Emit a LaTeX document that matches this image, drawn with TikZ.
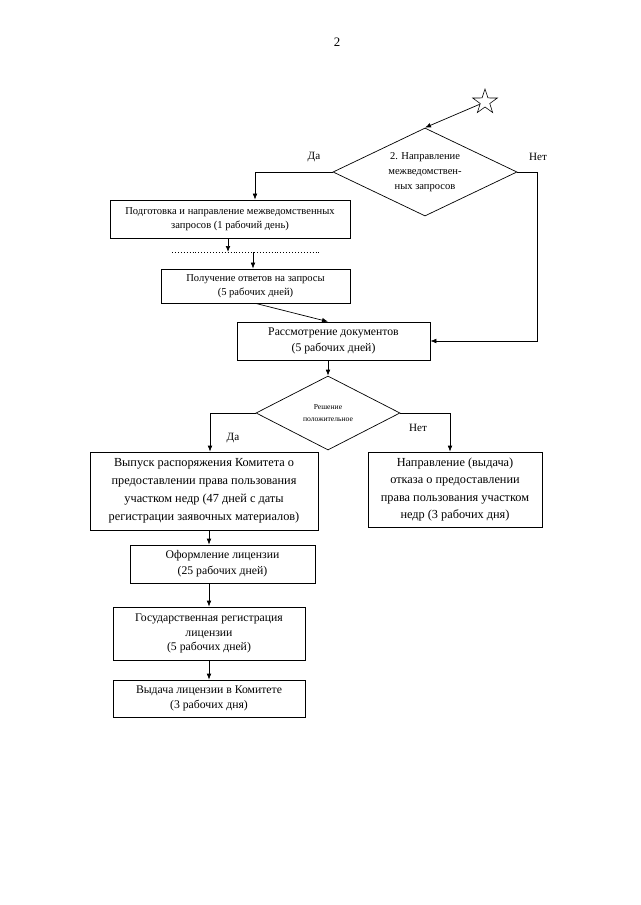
\documentclass[tikz,border=0pt]{standalone}
\usepackage{fontspec}
\setmainfont{Liberation Serif}
\usepackage{tikz}
\usetikzlibrary{arrows.meta,positioning,shapes.geometric,calc}
\tikzset{
  procbox/.style={
    rectangle,
    draw=black,
    line width=0.6pt,
    inner sep=1pt,
    align=center,
    font=\fontsize{10}{13.5}\selectfont
  },
  decision/.style={
    diamond,
    draw=black,
    line width=0.6pt,
    inner sep=0pt,
    align=center
  },
  answer/.style={font=\fontsize{9.5}{11}\selectfont},
  flow/.style={-{Latex[length=1.8mm,width=1.4mm]}, line width=0.6pt, black}
}

\begin{document}
\begin{tikzpicture}[x=0.03cm,y=-0.03cm]
\useasboundingbox (0,0) rectangle (640,905);
\node[font=\fontsize{11}{13}\selectfont] (pagenum) at (337,42) {2};
\node[star, star points=5, star point ratio=2.6, draw, line width=0.5pt, minimum size=0.78cm, inner sep=0pt] (star) at (485,102) {};
\node[decision, aspect=2.3, minimum width=5.52cm, minimum height=2.64cm, font=\fontsize{9}{13}\selectfont] (inter) at (425,172) {2. Направление\\межведомствен-\\ных запросов};
\node[procbox, minimum width=7.2cm, minimum height=1.14cm, font=\fontsize{9}{12.5}\selectfont] (send) at (230,219) {Подготовка и направление межведомственных\\запросов (1 рабочий день)};
\node[procbox, minimum width=5.67cm, minimum height=1.02cm, font=\fontsize{9}{12.5}\selectfont] (reply) at (255.5,286) {Получение ответов на запросы\\(5 рабочих дней)};
\node[procbox, minimum width=5.79cm, minimum height=1.14cm] (review) at (333.5,341) {Рассмотрение документов\\(5 рабочих дней)};
\node[decision, aspect=2, minimum width=4.32cm, minimum height=2.22cm, font=\fontsize{6.5}{11}\selectfont] (verdict) at (328,413) {Решение\\положительное};
\node[procbox, minimum width=6.84cm, minimum height=2.34cm, font=\fontsize{10.5}{15.5}\selectfont] (order) at (204,491) {Выпуск распоряжения Комитета о\\предоставлении права пользования\\участком недр (47 дней с даты\\регистрации заявочных материалов)};
\node[procbox, minimum width=5.22cm, minimum height=2.25cm, font=\fontsize{10.5}{15}\selectfont] (refuse) at (455,489.5) {Направление (выдача)\\отказа о предоставлении\\права пользования участком\\недр (3 рабочих дня)};
\node[procbox, minimum width=5.55cm, minimum height=1.14cm] (draft) at (222.5,564) {Оформление лицензии\\(25 рабочих дней)};
\node[procbox, minimum width=5.76cm, minimum height=1.59cm, font=\fontsize{10}{12.5}\selectfont] (regist) at (209,633.5) {Государственная регистрация\\лицензии\\(5 рабочих дней)};
\node[procbox, minimum width=5.76cm, minimum height=1.11cm, font=\fontsize{10}{12.5}\selectfont] (issue) at (209,698.5) {Выдача лицензии в Комитете\\(3 рабочих дня)};
\node[answer] (yes1) at (314,157) {Да};
\node[answer] (no1) at (538,157) {Нет};
\node[answer] (yes2) at (233,438) {Да};
\node[answer] (no2) at (418,428) {Нет};
\coordinate (dotL) at (172,252);
\coordinate (dotR) at (320,252);
\draw[line width=0.5pt, dotted] (dotL) -- (dotR);
\draw[flow] (star) -- (inter.north);
\draw[flow] (inter.west) -| ([xshift=0.75cm]send.north);
\draw[flow] (inter.east) -- ++(20,0) |- (review.east);
\draw[flow] ([xshift=-0.06cm]send.south) -- ([xshift=-0.06cm]send.south |- dotL);
\draw[flow] ([xshift=-0.075cm]reply.north |- dotL) -- ([xshift=-0.075cm]reply.north);
\draw[flow] (reply.south) -- ([xshift=-0.165cm]review.north);
\draw[flow] (verdict.north |- review.south) -- (verdict.north);
\draw[flow] (verdict.west) -| ([xshift=0.18cm]order.north);
\draw[flow] (verdict.east) -| ([xshift=-0.15cm]refuse.north);
\draw[flow] (regist.north |- order.south) -- (regist.north |- draft.north);
\draw[flow] (regist.north |- draft.south) -- (regist.north);
\draw[flow] (regist.south) -- (issue.north);
\end{tikzpicture}
\end{document}
